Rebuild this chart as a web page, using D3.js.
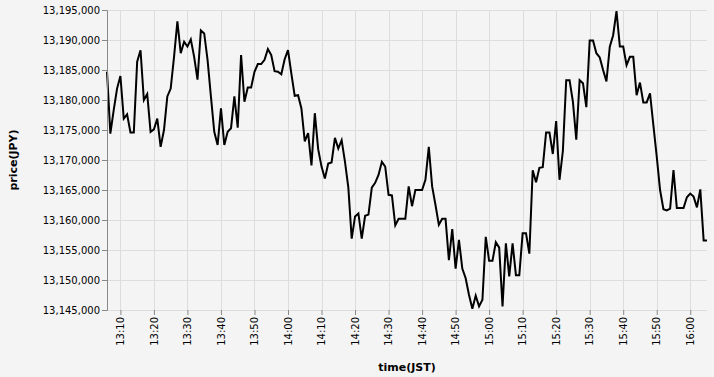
<!DOCTYPE html>
<html>
<head>
<meta charset="utf-8">
<script src="https://cdn.jsdelivr.net/npm/d3@7"></script>
<style>
  body { margin: 0; background: #f4f4f4; }
  text { font-family: "DejaVu Sans", sans-serif; }
</style>
</head>
<body>
<div id="chartArea"></div>
<script>
// data setup: one price per minute, 13:06 -> 16:05
var startTime = "13:06";
var prices = [
  13184700, 13174400, 13178300, 13181900, 13184000, 13176900, 13177600, 13174600, 13174600, 13186400,
  13188300, 13180000, 13181000, 13174700, 13175100, 13176900, 13172200, 13175000, 13180600, 13181900,
  13187200, 13193100, 13187800, 13189700, 13188900, 13190100, 13187200, 13183400, 13191600, 13191100,
  13186700, 13180600, 13174700, 13172500, 13178600, 13172500, 13174700, 13175300, 13180600, 13175400,
  13187500, 13179700, 13182100, 13182100, 13184700, 13186000, 13186000, 13186700, 13188500, 13187500,
  13184800, 13184700, 13184300, 13186800, 13188300, 13184400, 13180700, 13180800, 13178600, 13173100,
  13174500, 13169100, 13177800, 13171800, 13168900, 13166900, 13169400, 13169600, 13173700, 13171900,
  13173300, 13169700, 13165400, 13156900, 13160600, 13161100, 13156900, 13160700, 13160900, 13165400,
  13166200, 13167500, 13169700, 13168900, 13164200, 13164100, 13159100, 13160200, 13160200, 13160200,
  13165600, 13162300, 13165000, 13165000, 13165000, 13166700, 13172200, 13165600, 13162500, 13159200,
  13160200, 13160200, 13153300, 13158500, 13151900, 13156700, 13151900, 13150300, 13147500, 13145200,
  13147400, 13145600, 13146700, 13157200, 13153200, 13153200, 13156300, 13155400, 13145600, 13156100,
  13150600, 13156100, 13150800, 13150800, 13157800, 13157800, 13154400, 13168300, 13166300, 13168700,
  13168800, 13174600, 13174600, 13171000, 13176500, 13166700, 13171500, 13183300, 13183300, 13179700,
  13173400, 13183300, 13182800, 13178800, 13189900, 13189900, 13187800, 13187100, 13185000, 13183100,
  13188900, 13190800, 13194800, 13188900, 13188900, 13185800, 13187200, 13187200, 13180800, 13182900,
  13179600, 13179600, 13181100, 13175800, 13170600, 13165000, 13161800, 13161600, 13161900, 13168300,
  13162000, 13162000, 13162000, 13163800, 13164400, 13163900, 13162100, 13165100, 13156600, 13156600
];
var timeTicks = ["13:10", "13:20", "13:30", "13:40", "13:50", "14:00", "14:10", "14:20", "14:30",
  "14:40", "14:50", "15:00", "15:10", "15:20", "15:30", "15:40", "15:50", "16:00"];
var priceTicks = [13145000, 13150000, 13155000, 13160000, 13165000, 13170000, 13175000,
  13180000, 13185000, 13190000, 13195000];

// set the dimensions and margins of the graph
var margin = { top: 10, right: 7, bottom: 67, left: 107 },
  width = 714 - margin.left - margin.right,
  height = 377 - margin.top - margin.bottom;

var parseTime = d3.timeParse("%H:%M");
var t0 = parseTime(startTime);
var data = prices.map(function(p, i) {
  return { date: d3.timeMinute.offset(t0, i), close: p };
});

// set the ranges
var x = d3.scaleTime().range([0, width]).domain(d3.extent(data, function(d) { return d.date; }));
var y = d3.scaleLinear().range([height, 0]).domain([priceTicks[0], priceTicks[priceTicks.length - 1]]);

var svg = d3.select("#chartArea").append("svg")
  .attr("width", 714)
  .attr("height", 377)
  .style("background", "#f4f4f4")
  .append("g")
  .attr("transform", "translate(" + margin.left + "," + margin.top + ")");

// grid
svg.append("g").selectAll("line.gx")
  .data(timeTicks.map(parseTime))
  .enter().append("line")
  .attr("x1", function(d) { return Math.round(x(d)) + 0.5; })
  .attr("x2", function(d) { return Math.round(x(d)) + 0.5; })
  .attr("y1", 0).attr("y2", height)
  .attr("stroke", "#ddd");

svg.append("g").selectAll("line.gy")
  .data(priceTicks)
  .enter().append("line")
  .attr("x1", 0).attr("x2", width)
  .attr("y1", function(d) { return Math.round(y(d)) + 0.5; })
  .attr("y2", function(d) { return Math.round(y(d)) + 0.5; })
  .attr("stroke", "#ddd");

// the price line
var valueline = d3.line()
  .x(function(d) { return x(d.date); })
  .y(function(d) { return y(d.close); });

svg.append("path")
  .datum(data)
  .attr("fill", "none")
  .attr("stroke", "#000")
  .attr("stroke-width", 2)
  .attr("d", valueline);

// x axis
var xAxis = svg.append("g")
  .attr("transform", "translate(0," + height + ")")
  .call(d3.axisBottom(x)
    .tickValues(timeTicks.map(parseTime))
    .tickFormat(d3.timeFormat("%H:%M"))
    .tickSize(5).tickPadding(2));
xAxis.select(".domain").remove();
xAxis.selectAll(".tick line").attr("stroke", "#888");
xAxis.selectAll(".tick text")
  .attr("font-size", 10)
  .attr("fill", "#000")
  .attr("text-anchor", "end")
  .attr("dy", "0.32em")
  .attr("y", 0)
  .attr("transform", "translate(0,7) rotate(-90)");

// y axis
var yAxis = svg.append("g")
  .call(d3.axisLeft(y)
    .tickValues(priceTicks)
    .tickFormat(d3.format(","))
    .tickSize(5).tickPadding(2));
yAxis.select(".domain").attr("stroke", "#888");
yAxis.selectAll(".tick line").attr("stroke", "#888");
yAxis.selectAll(".tick text").attr("font-size", 10).attr("fill", "#000");

// axis titles
svg.append("text")
  .attr("transform", "translate(" + (17 - margin.left) + "," + (height / 2) + ") rotate(-90)")
  .attr("text-anchor", "middle")
  .attr("font-size", 11)
  .attr("font-weight", "bold")
  .text("price(JPY)");

svg.append("text")
  .attr("x", width / 2)
  .attr("y", 361)
  .attr("text-anchor", "middle")
  .attr("font-size", 11)
  .attr("font-weight", "bold")
  .text("time(JST)");
</script>
</body>
</html>
